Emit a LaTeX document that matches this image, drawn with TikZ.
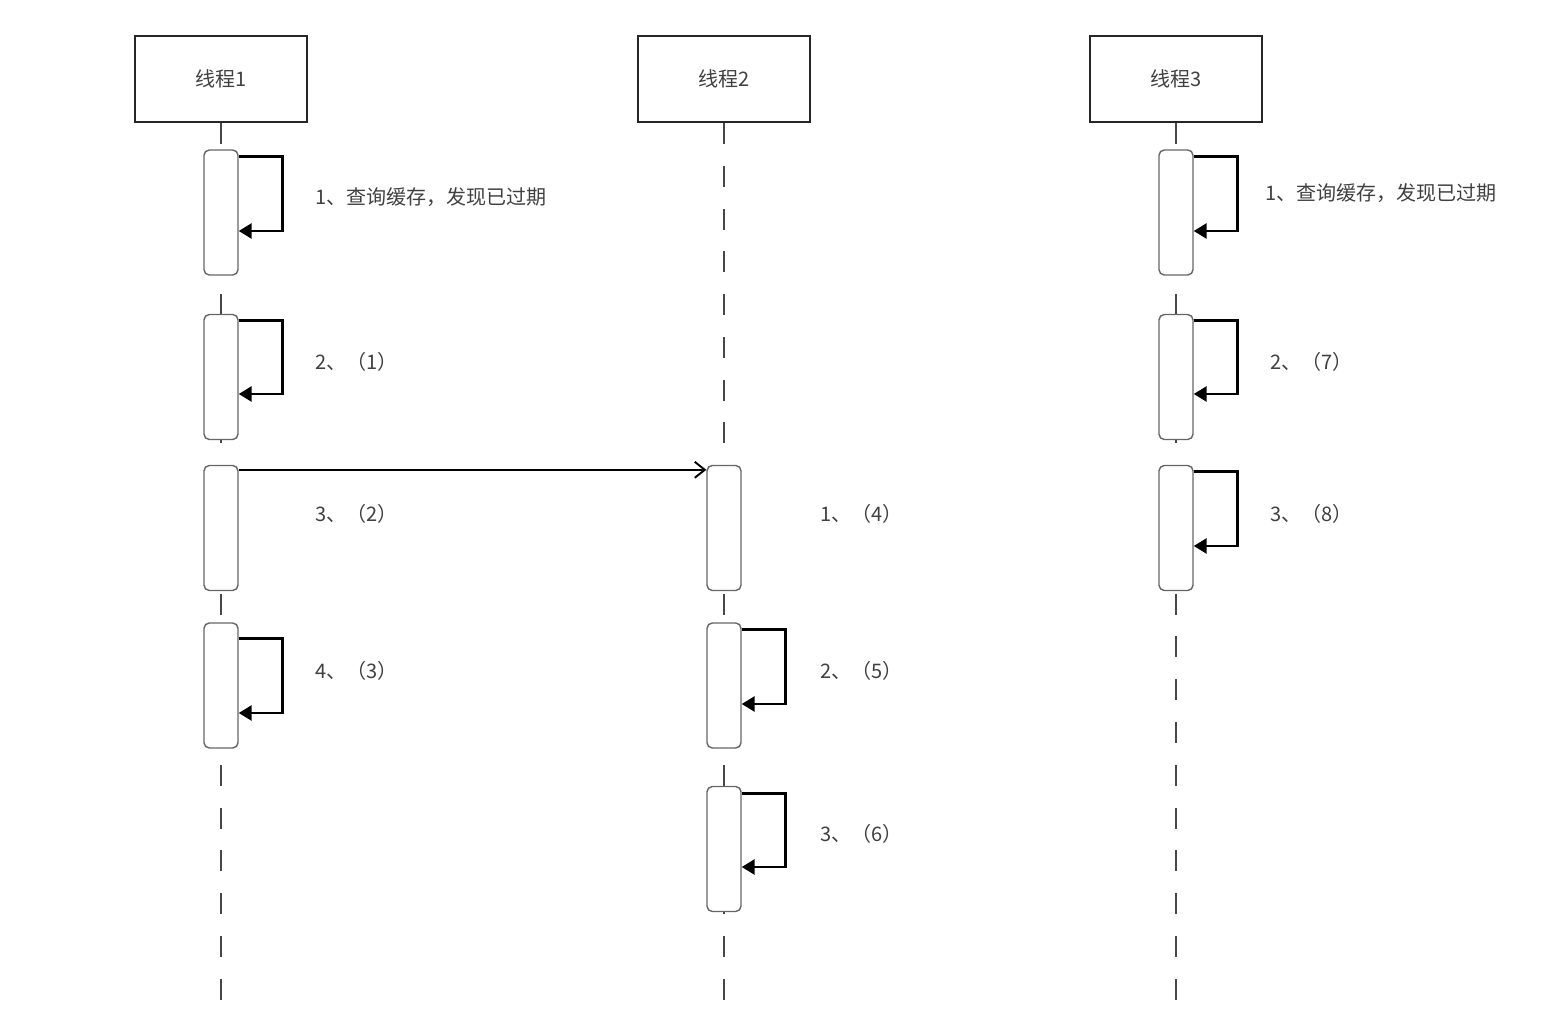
\documentclass[tikz,border=0pt]{standalone}
\usepackage{fontspec}
\newfontfamily\cjk{Noto Sans CJK SC}
\usetikzlibrary{arrows.meta}

\begin{document}
\begin{tikzpicture}[
  x=0.02cm,y=-0.02cm,
  txt/.style={font=\cjk\fontsize{11.4}{13}\selectfont,text=black!75},
  head/.style={draw=black!85,line width=1.1pt,minimum width=3.44cm,minimum height=1.72cm,txt},
  act/.style={draw=black!60,fill=white,line width=0.8pt,rounded corners=3pt,minimum width=0.68cm,minimum height=2.5cm,inner sep=0pt},
  life/.style={draw=black!72,line width=1.4pt,dash pattern=on 0.42cm off 0.436cm},
  selfcall/.style={-{Triangle[length=2.6mm,width=3mm]},line width=1.6pt},
  msg/.style={-{Straight Barb[length=2mm,width=3.2mm]},line width=1.1pt},
  lbl/.style={anchor=west,inner sep=0pt,txt}
]
  \useasboundingbox (0,0) rectangle (1566,1020);

  % threads and lifelines
  \foreach \i/\x in {1/221,2/724,3/1176} {
    \node[head] (thread\i) at (\x,79) {线程\i};
    \coordinate (end\i) at (\x,1000);
    \draw[life] (thread\i.south) -- (end\i);
  }

  % activations
  \node[act] (t1a) at (221,212.5) {};
  \node[act] (t1b) at (221,377) {};
  \node[act] (t1c) at (221,528) {};
  \node[act] (t1d) at (221,685.5) {};

  \node[act] (t2a) at (724,528) {};
  \node[act] (t2b) at (724,685.5) {};
  \node[act] (t2c) at (724,849) {};

  \node[act] (t3a) at (1176,212.5) {};
  \node[act] (t3b) at (1176,377) {};
  \node[act] (t3c) at (1176,528) {};

  % self calls
  \foreach \a/\top/\bot in {t1a/7/18.5,t1b/7/17,t1d/16/27.5,t2b/7/18.5,t2c/8/18,t3a/7/18.5,t3b/7/17,t3c/7/18} {
    \draw[selfcall] ([yshift=-\top*0.02cm]\a.north east) -- ++(44,0) |- ([yshift=-\bot*0.02cm]\a.east);
  }

  % message thread1 -> thread2
  \draw[msg] ([yshift=-0.1cm]t1c.north east) -- ([yshift=-0.1cm]t2a.north west);

  % labels
  \node[lbl] (l1a) at (315,197) {1、查询缓存，发现已过期};
  \node[lbl] (l1b) at (315,362) {2、（1）};
  \node[lbl] (l1c) at (315,514) {3、（2）};
  \node[lbl] (l1d) at (315,671) {4、（3）};

  \node[lbl] (l2a) at (820,514) {1、（4）};
  \node[lbl] (l2b) at (820,671) {2、（5）};
  \node[lbl] (l2c) at (820,834) {3、（6）};

  \node[lbl] (l3a) at (1265,193) {1、查询缓存，发现已过期};
  \node[lbl] (l3b) at (1270,362) {2、（7）};
  \node[lbl] (l3c) at (1270,514) {3、（8）};
\end{tikzpicture}
\end{document}
